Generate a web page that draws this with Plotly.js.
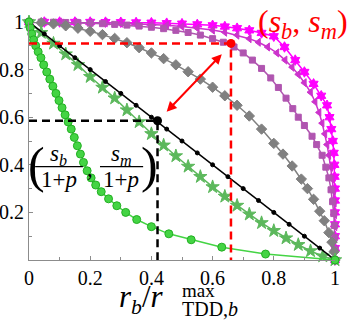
<!DOCTYPE html>
<html>
<head>
<meta charset="utf-8">
<script src="https://cdn.plot.ly/plotly-3.0.1.min.js"></script>
</head>
<body style="margin:0">
<div id="chart" style="width:357px;height:322px"></div>
<script>
// values (x = r_b / r_max, y = throughput share)
var lineX = [0, 0.05, 0.1, 0.15, 0.2, 0.25, 0.3, 0.35, 0.4, 0.45, 0.5, 0.55, 0.6, 0.65, 0.7, 0.75, 0.8, 0.85, 0.9, 0.95, 1];
var lineY = [1, 0.95, 0.9, 0.85, 0.8, 0.75, 0.7, 0.65, 0.6, 0.55, 0.5, 0.45, 0.4, 0.35, 0.3, 0.25, 0.2, 0.15, 0.1, 0.05, 0];

var circX = [0, 0.004, 0.009, 0.015, 0.022, 0.03, 0.039, 0.048, 0.058, 0.068, 0.078, 0.088, 0.098, 0.108, 0.118, 0.128, 0.138, 0.148, 0.158, 0.168, 0.178, 0.19, 0.203, 0.218, 0.236, 0.26, 0.287, 0.316, 0.352, 0.40, 0.457, 0.53, 0.63, 0.773, 1.0];
var circY = [1, 0.975, 0.95, 0.925, 0.9, 0.875, 0.85, 0.82, 0.79, 0.76, 0.73, 0.70, 0.67, 0.64, 0.61, 0.58, 0.55, 0.515, 0.48, 0.445, 0.41, 0.375, 0.345, 0.315, 0.287, 0.257, 0.228, 0.2, 0.17, 0.14, 0.11, 0.085, 0.054, 0.025, 0];

var starX = [0, 0.04, 0.08, 0.12, 0.16, 0.2, 0.24, 0.28, 0.32, 0.36, 0.4, 0.44, 0.48, 0.52, 0.56, 0.6, 0.64, 0.68, 0.72, 0.76, 0.8, 0.84, 0.88, 0.92, 0.96, 1];
var starY = [1, 0.955, 0.91, 0.865, 0.82, 0.77, 0.725, 0.68, 0.63, 0.58, 0.53, 0.482, 0.437, 0.393, 0.35, 0.307, 0.267, 0.229, 0.192, 0.156, 0.123, 0.092, 0.064, 0.038, 0.016, 0];

var diaX = [0, 0.04, 0.08, 0.12, 0.16, 0.2, 0.24, 0.28, 0.32, 0.36, 0.4, 0.44, 0.48, 0.52, 0.56, 0.6, 0.64, 0.68, 0.72, 0.76, 0.8, 0.83, 0.86, 0.89, 0.91, 0.93, 0.95, 0.965, 0.98, 0.99, 0.997, 1];
var diaY = [1, 0.997, 0.992, 0.984, 0.974, 0.961, 0.947, 0.931, 0.913, 0.892, 0.87, 0.846, 0.82, 0.791, 0.76, 0.726, 0.69, 0.65, 0.605, 0.55, 0.49, 0.445, 0.395, 0.34, 0.30, 0.255, 0.205, 0.165, 0.115, 0.075, 0.035, 0];

var sqX = [0, 0.04, 0.08, 0.12, 0.16, 0.2, 0.24, 0.28, 0.32, 0.36, 0.4, 0.44, 0.48, 0.52, 0.56, 0.6, 0.635, 0.67, 0.7, 0.73, 0.76, 0.79, 0.815, 0.84, 0.862, 0.88, 0.9, 0.925, 0.94, 0.958, 0.97, 0.98, 0.987, 0.992, 0.996, 0.998, 0.999, 1, 1];
var sqY = [1, 0.9995, 0.999, 0.998, 0.997, 0.995, 0.993, 0.99, 0.987, 0.983, 0.978, 0.972, 0.965, 0.956, 0.945, 0.93, 0.915, 0.895, 0.87, 0.84, 0.805, 0.765, 0.725, 0.68, 0.636, 0.6, 0.565, 0.52, 0.485, 0.44, 0.39, 0.345, 0.295, 0.245, 0.195, 0.145, 0.095, 0.045, 0];

var triX = [0, 0.05, 0.1, 0.15, 0.2, 0.25, 0.3, 0.35, 0.4, 0.45, 0.5, 0.55, 0.6, 0.64, 0.68, 0.72, 0.75, 0.78, 0.81, 0.837, 0.86, 0.88, 0.9, 0.92, 0.935, 0.948, 0.958, 0.967, 0.974, 0.98, 0.986, 0.991, 0.995, 0.998, 0.999, 1, 1, 1, 1];
var triY = [1, 1, 0.9995, 0.999, 0.998, 0.997, 0.995, 0.993, 0.99, 0.986, 0.981, 0.974, 0.966, 0.957, 0.945, 0.93, 0.915, 0.895, 0.87, 0.84, 0.81, 0.78, 0.745, 0.705, 0.665, 0.62, 0.575, 0.53, 0.485, 0.44, 0.39, 0.34, 0.29, 0.24, 0.19, 0.14, 0.09, 0.045, 0];

var hexX = [0, 0.05, 0.1, 0.15, 0.2, 0.25, 0.3, 0.35, 0.4, 0.45, 0.5, 0.55, 0.6, 0.64, 0.68, 0.72, 0.76, 0.8, 0.835, 0.87, 0.9, 0.93, 0.955, 0.974, 0.982, 0.988, 0.993, 0.996, 0.998, 0.999, 1, 1, 1, 1, 1, 1, 1];
var hexY = [1, 1, 1, 1, 1, 0.9995, 0.999, 0.998, 0.997, 0.995, 0.993, 0.99, 0.986, 0.981, 0.974, 0.965, 0.954, 0.94, 0.895, 0.84, 0.79, 0.74, 0.69, 0.65, 0.6, 0.55, 0.5, 0.45, 0.4, 0.35, 0.3, 0.25, 0.2, 0.15, 0.1, 0.05, 0];

// the (s_b, s_m) point and its scaled version on the diagonal
var sPoint = [0.66, 0.91];
var scaledPoint = [0.42, 0.585];

var xTicks = [0, 0.2, 0.4, 0.6, 0.8, 1];
var xTickText = ['0', '0.2', '0.4', '0.6', '0.8', '1'];
var yTicks = [0.2, 0.4, 0.6, 0.8, 1];
var yTickText = ['0.2', '0.4', '0.6', '0.8', '1'];

var serifFont = 'Liberation Serif';

function curve(x, y, color, symbol, size, edge) {
  return {
    x: x, y: y, type: 'scatter', mode: 'lines+markers', cliponaxis: false, hoverinfo: 'skip',
    line: {color: color, width: 1.5},
    marker: {symbol: symbol, size: size, color: color, line: {color: edge || color, width: 1}}
  };
}

var data = [
  curve(hexX, hexY, '#ff00ff', 'hexagram', 8),
  curve(triX, triY, '#cc33cc', 'triangle-left', 7),
  curve(sqX, sqY, '#b055b0', 'square', 6),
  curve(diaX, diaY, '#808080', 'diamond', 8),
  curve(starX, starY, '#5cb85c', 'star', 10),
  curve(lineX, lineY, '#000000', 'circle', 4),
  curve(circX, circY, '#44d444', 'circle', 8, '#22b022'),
  {
    x: [0, sPoint[0], sPoint[0]], y: [sPoint[1], sPoint[1], 0],
    type: 'scatter', mode: 'lines', cliponaxis: false, hoverinfo: 'skip',
    line: {color: '#ff0000', width: 2.5, dash: '8px,5px'}
  },
  {
    x: [0, scaledPoint[0], scaledPoint[0]], y: [scaledPoint[1], scaledPoint[1], 0],
    type: 'scatter', mode: 'lines', cliponaxis: false, hoverinfo: 'skip',
    line: {color: '#000000', width: 2.5, dash: '8px,5px'}
  },
  {
    x: [sPoint[0]], y: [sPoint[1]], type: 'scatter', mode: 'markers', cliponaxis: false,
    marker: {color: '#ff0000', size: 9}
  },
  {
    x: [scaledPoint[0]], y: [scaledPoint[1]], type: 'scatter', mode: 'markers', cliponaxis: false,
    marker: {color: '#000000', size: 9}
  }
];

function txt(x, y, text, size, ref) {
  return {
    x: x, y: y, xref: ref || 'x', yref: ref || 'y', text: text, showarrow: false,
    font: {family: serifFont, size: size},
    xanchor: 'center', yanchor: 'middle'
  };
}

var annotations = [
  // red label and double arrow
  {
    x: 0.895, y: 1.09, xref: 'paper', yref: 'paper', showarrow: false,
    text: '<span style="color:#ff0000">(<i>s</i><sub><i>b</i></sub>, <i>s</i><sub><i>m</i></sub>)</span>',
    font: {family: serifFont, size: 32},
    xanchor: 'center', yanchor: 'top'
  },
  {
    x: 0.63, y: 0.865, ax: 0.44, ay: 0.61, axref: 'x', ayref: 'y', xref: 'x', yref: 'y',
    text: ' ', showarrow: true, arrowhead: 2, startarrowhead: 2, arrowside: 'end+start',
    arrowsize: 1, startarrowsize: 1, arrowwidth: 2, arrowcolor: '#ff0000'
  },
  // black fraction label
  txt(0.026, 0.40, '(', 50),
  txt(0.098, 0.44, '<i>s</i><sub><i>b</i></sub>', 23),
  txt(0.098, 0.34, '1+<i>p</i>', 23),
  txt(0.2, 0.385, ',', 23),
  txt(0.302, 0.44, '<i>s</i><sub><i>m</i></sub>', 23),
  txt(0.302, 0.34, '1+<i>p</i>', 23),
  txt(0.395, 0.40, ')', 50),
  // x axis title in pieces
  {
    x: 0.448, y: -0.165, xref: 'paper', yref: 'paper', showarrow: false,
    text: '<i>r</i><sub><i>b</i></sub>/<i>r</i>', font: {family: serifFont, size: 31},
    xanchor: 'right', yanchor: 'middle'
  },
  {
    x: 0.492, y: -0.128, xref: 'paper', yref: 'paper', showarrow: false,
    text: 'max', font: {family: serifFont, size: 19},
    xanchor: 'left', yanchor: 'middle'
  },
  {
    x: 0.492, y: -0.205, xref: 'paper', yref: 'paper', showarrow: false,
    text: 'TDD,<i>b</i>', font: {family: serifFont, size: 20},
    xanchor: 'left', yanchor: 'middle'
  }
];

var shapes = [
  {type: 'line', xref: 'x', yref: 'y', x0: 0.02, x1: 0.176, y0: 0.392, y1: 0.392, line: {color: '#000', width: 1.2}},
  {type: 'line', xref: 'x', yref: 'y', x0: 0.232, x1: 0.373, y0: 0.392, y1: 0.392, line: {color: '#000', width: 1.2}}
];

var layout = {
  width: 357, height: 322,
  margin: {l: 29, r: 22, t: 22, b: 62},
  paper_bgcolor: '#fff', plot_bgcolor: '#fff',
  showlegend: false,
  font: {color: '#000'},
  xaxis: {
    range: [0, 1], tickvals: xTicks, ticktext: xTickText,
    showgrid: false, zeroline: false, showline: true, linecolor: '#8c8c8c', linewidth: 1,
    ticks: 'inside', ticklen: 4, tickcolor: '#8c8c8c',
    minor: {dtick: 0.1, ticks: 'inside', ticklen: 3, tickcolor: '#8c8c8c'},
    tickfont: {family: serifFont, size: 20}
  },
  yaxis: {
    range: [0, 1], tickvals: yTicks, ticktext: yTickText,
    showgrid: false, zeroline: false, showline: true, linecolor: '#8c8c8c', linewidth: 1,
    ticks: 'inside', ticklen: 4, tickcolor: '#8c8c8c', ticklabelstandoff: 0,
    minor: {dtick: 0.1, ticks: 'inside', ticklen: 3, tickcolor: '#8c8c8c'},
    tickfont: {family: serifFont, size: 20}
  },
  annotations: annotations,
  shapes: shapes
};

Plotly.newPlot('chart', data, layout, {displayModeBar: false});
</script>
</body>
</html>
